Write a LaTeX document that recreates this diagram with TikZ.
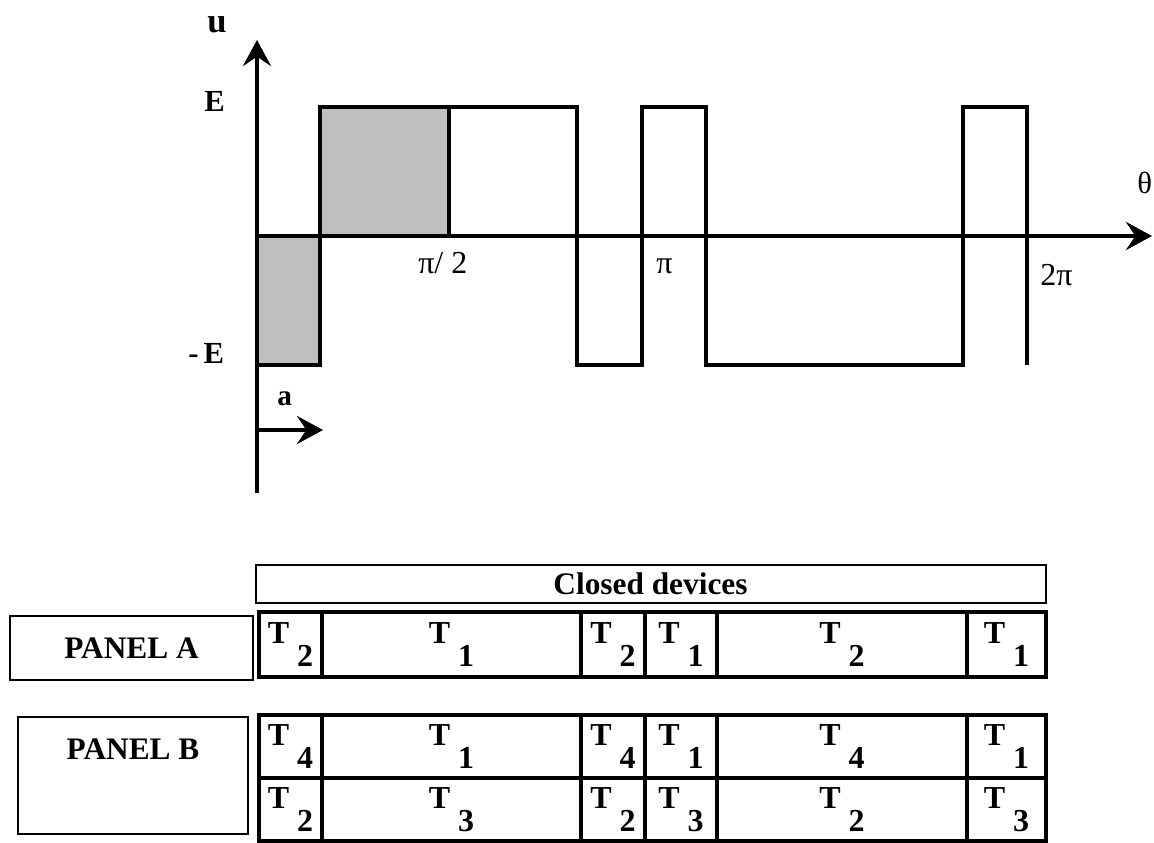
\documentclass[tikz,border=0pt]{standalone}
\usepackage{fontspec}
\setmainfont{Liberation Serif}
\usetikzlibrary{arrows.meta,positioning}

\definecolor{fillgray}{gray}{0.75}
\newcommand{\pxu}{0.75pt}
\newcommand{\Tsub}[1]{T\hspace{0.25em}\raisebox{-0.7em}{#1}}

\begin{document}
\begin{tikzpicture}[x=0.75pt, y=-0.75pt,
	axis/.style={line width=3pt, -{Stealth[length=19.5pt, width=21pt, inset=7pt]}},
	wave/.style={line width=3pt, line join=miter},
	lab/.style={inner sep=0pt, anchor=base west},
	thinbox/.style={draw, line width=1.5pt, inner sep=0pt},
	title/.style={font=\bfseries\fontsize{23.5}{24}\selectfont},
	cell/.style={draw, line width=3pt, inner sep=0pt, font=\bfseries\fontsize{24}{24}\selectfont}]
	\useasboundingbox (0,0) rectangle (1154,843);

	% levels and axes
	\coordinate (o) at (257,236);
	\coordinate (ubot) at (257,493);
	\coordinate (utop) at (257,40);
	\coordinate (thend) at (1152,236);

	% shaded areas
	\fill[fillgray] (257,236) rectangle (320,365);
	\fill[fillgray] (320,107) rectangle (449,236);

	\draw[axis] (ubot) -- (utop);
	\draw[axis] (o) -- (thend);

	% output voltage
	\draw[wave] (257,365) -- (320,365) -- (320,107) -- (577,107) -- (577,365)
		-- (642,365) -- (642,107) -- (706,107) -- (706,365) -- (963,365)
		-- (963,107) -- (1027,107) -- (1027,365);
	\draw[wave] (449,107) -- (449,236);

	% shift a
	\coordinate (a0) at (257,430);
	\coordinate (a1) at (323,430);
	\draw[axis] (a0) -- (a1);

	\node[lab, font=\bfseries\fontsize{26}{26}\selectfont] (u) at (207,32) {u};
	\node[lab, font=\bfseries\fontsize{23}{23}\selectfont] (E) at (204,111) {E};
	\node[lab, font=\bfseries\fontsize{23}{23}\selectfont] (mE) at (188,363) {-\,E};
	\node[lab, font=\bfseries\fontsize{22}{22}\selectfont] (a) at (277,405) {a};
	\node[lab, font=\fontsize{24}{24}\selectfont] (halfpi) at (418,273) {π/ 2};
	\node[lab, font=\fontsize{24}{24}\selectfont] (pi) at (656,273) {π};
	\node[lab, font=\fontsize{24}{24}\selectfont] (twopi) at (1040,285) {2π};
	\node[lab, font=\fontsize{23}{23}\selectfont] (theta) at (1137,193) {θ};

	% table of closed devices
	\node[thinbox, title, minimum width=790*\pxu, minimum height=38*\pxu] (closed) at (650.5,584) {Closed devices};
	\node[thinbox, title, minimum width=243*\pxu, minimum height=64*\pxu] (panelA) at (131.5,648) {PANEL A};
	\node[thinbox, minimum width=230*\pxu, minimum height=117*\pxu] (panelB) at (133,775.5) {};
	\node[title, below=17pt of panelB.north, inner sep=0pt] (panelBt) {PANEL B};

	\node[cell, minimum width=63*\pxu, minimum height=65*\pxu] (A1) at (290.5,644.5) {\Tsub{2}};
	\node[cell, minimum width=259*\pxu, minimum height=65*\pxu] (A2) at (451.5,644.5) {\Tsub{1}};
	\node[cell, minimum width=64*\pxu, minimum height=65*\pxu] (A3) at (613,644.5) {\Tsub{2}};
	\node[cell, minimum width=72*\pxu, minimum height=65*\pxu] (A4) at (681,644.5) {\Tsub{1}};
	\node[cell, minimum width=250*\pxu, minimum height=65*\pxu] (A5) at (842,644.5) {\Tsub{2}};
	\node[cell, minimum width=79*\pxu, minimum height=65*\pxu] (A6) at (1006.5,644.5) {\Tsub{1}};

	\node[cell, minimum width=63*\pxu, minimum height=63*\pxu] (B1) at (290.5,746.5) {\Tsub{4}};
	\node[cell, minimum width=259*\pxu, minimum height=63*\pxu] (B2) at (451.5,746.5) {\Tsub{1}};
	\node[cell, minimum width=64*\pxu, minimum height=63*\pxu] (B3) at (613,746.5) {\Tsub{4}};
	\node[cell, minimum width=72*\pxu, minimum height=63*\pxu] (B4) at (681,746.5) {\Tsub{1}};
	\node[cell, minimum width=250*\pxu, minimum height=63*\pxu] (B5) at (842,746.5) {\Tsub{4}};
	\node[cell, minimum width=79*\pxu, minimum height=63*\pxu] (B6) at (1006.5,746.5) {\Tsub{1}};

	\node[cell, minimum width=63*\pxu, minimum height=63*\pxu] (C1) at (290.5,809.5) {\Tsub{2}};
	\node[cell, minimum width=259*\pxu, minimum height=63*\pxu] (C2) at (451.5,809.5) {\Tsub{3}};
	\node[cell, minimum width=64*\pxu, minimum height=63*\pxu] (C3) at (613,809.5) {\Tsub{2}};
	\node[cell, minimum width=72*\pxu, minimum height=63*\pxu] (C4) at (681,809.5) {\Tsub{3}};
	\node[cell, minimum width=250*\pxu, minimum height=63*\pxu] (C5) at (842,809.5) {\Tsub{2}};
	\node[cell, minimum width=79*\pxu, minimum height=63*\pxu] (C6) at (1006.5,809.5) {\Tsub{3}};
\end{tikzpicture}
\end{document}
